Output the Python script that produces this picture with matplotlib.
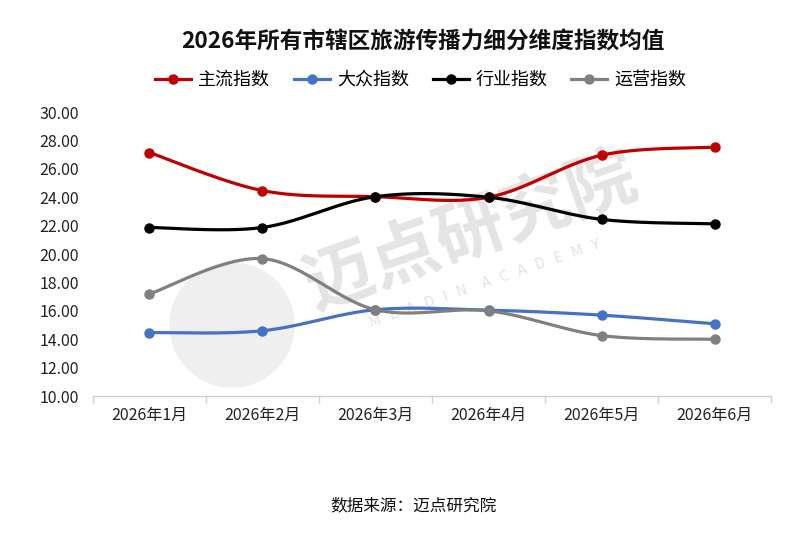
import numpy as np
import matplotlib
matplotlib.use("Agg")
import matplotlib.pyplot as plt
from matplotlib.lines import Line2D
from matplotlib.patches import Circle
from matplotlib.transforms import IdentityTransform

plt.rcParams['font.family'] = ['Noto Sans CJK SC', 'DejaVu Sans']

# 数据
months = ['2026年1月', '2026年2月', '2026年3月', '2026年4月', '2026年5月', '2026年6月']
zhuliu = [27.15, 24.47, 24.04, 24.0, 26.96, 27.53]
dazhong = [14.47, 14.6, 16.08, 16.05, 15.7, 15.09]
hangye = [21.87, 21.87, 24.04, 24.0, 22.44, 22.13]
yunying = [17.19, 19.68, 16.08, 16.0, 14.26, 14.0]

series = [
    ('主流指数', zhuliu, '#C00000'),
    ('大众指数', dazhong, '#4472C4'),
    ('行业指数', hangye, '#000000'),
    ('运营指数', yunying, '#808080'),
]


def smooth(x, y, n=30):
    # 类似 Excel 平滑线的贝塞尔曲线
    x = np.asarray(x, float)
    y = np.asarray(y, float)
    px = np.concatenate([[x[0]], x, [x[-1]]])
    py = np.concatenate([[y[0]], y, [y[-1]]])
    t = np.linspace(0, 1, n)[:, None]
    xs, ys = [], []
    for i in range(1, len(x)):
        p0 = np.array([px[i], py[i]])
        p3 = np.array([px[i + 1], py[i + 1]])
        p1 = p0 + (np.array([px[i + 1], py[i + 1]]) - np.array([px[i - 1], py[i - 1]])) / 6
        p2 = p3 - (np.array([px[i + 2], py[i + 2]]) - np.array([px[i], py[i]])) / 6
        b = (1 - t) ** 3 * p0 + 3 * (1 - t) ** 2 * t * p1 + 3 * (1 - t) * t ** 2 * p2 + t ** 3 * p3
        xs.append(b[:, 0])
        ys.append(b[:, 1])
    return np.concatenate(xs), np.concatenate(ys)


fig = plt.figure(figsize=(8, 5.36), dpi=100)
ax = fig.add_axes([0.116, 0.261, 0.848, 0.530])
ax.set_zorder(2)
ax.patch.set_alpha(0)

# 水印
fig.patches.append(Circle((232, 536 - 325), 62, transform=IdentityTransform(),
                          color='#efefef', zorder=1))
fig.text(0.590, 0.565, '迈点研究院', fontsize=50, color='#e4e4e4', rotation=19.5,
         ha='center', va='center', fontweight='bold', zorder=1)
fig.text(0.606, 0.470, 'M   E   A   D   I   N     A   C   A   D   E   M   Y', fontsize=10.5,
         color='#e2e2e2', rotation=19, ha='center', va='center', zorder=1)

x = np.arange(len(months))
for name, vals, color in series:
    sx, sy = smooth(x, vals)
    ax.plot(sx, sy, color=color, lw=2.3, zorder=3, solid_capstyle='round')
    ax.plot(x, vals, 'o', color=color, ms=6.5, zorder=4)

ax.set_xlim(-0.5, len(months) - 0.5)
ax.set_ylim(10, 30)
ax.set_yticks(np.arange(10, 31, 2))
ax.set_yticklabels([f'{v:.2f}' for v in np.arange(10, 31, 2)], fontsize=11.5, color='#222222')
ax.set_xticks(x)
ax.set_xticklabels(months, fontsize=11.5, color='#222222')
ax.set_xticks(np.arange(-0.5, len(months)), minor=True)
ax.tick_params(axis='x', which='major', length=0, pad=8)
ax.tick_params(axis='x', which='minor', length=5, color='#d0d0d0', width=1)
ax.tick_params(axis='y', length=0, pad=10)
for s in ['top', 'right', 'left']:
    ax.spines[s].set_visible(False)
ax.spines['bottom'].set_color('#d0d0d0')
ax.spines['bottom'].set_linewidth(1)

fig.text(0.528, 0.921, '2026年所有市辖区旅游传播力细分维度指数均值', fontsize=16.3,
         fontweight='bold', ha='center', va='center', color='#111111')

handles = [Line2D([], [], color=c, lw=2.3, marker='o', ms=6.5) for _, _, c in series]
fig.legend(handles, [s[0] for s in series], loc='center', bbox_to_anchor=(0.526, 0.851),
           ncol=4, frameon=False, fontsize=13, handlelength=2.0, columnspacing=1.3,
           handletextpad=0.4)

fig.text(0.517, 0.056, '数据来源：迈点研究院', fontsize=12, ha='center', va='center',
         color='#111111')

fig.savefig('out.png', dpi=100)
